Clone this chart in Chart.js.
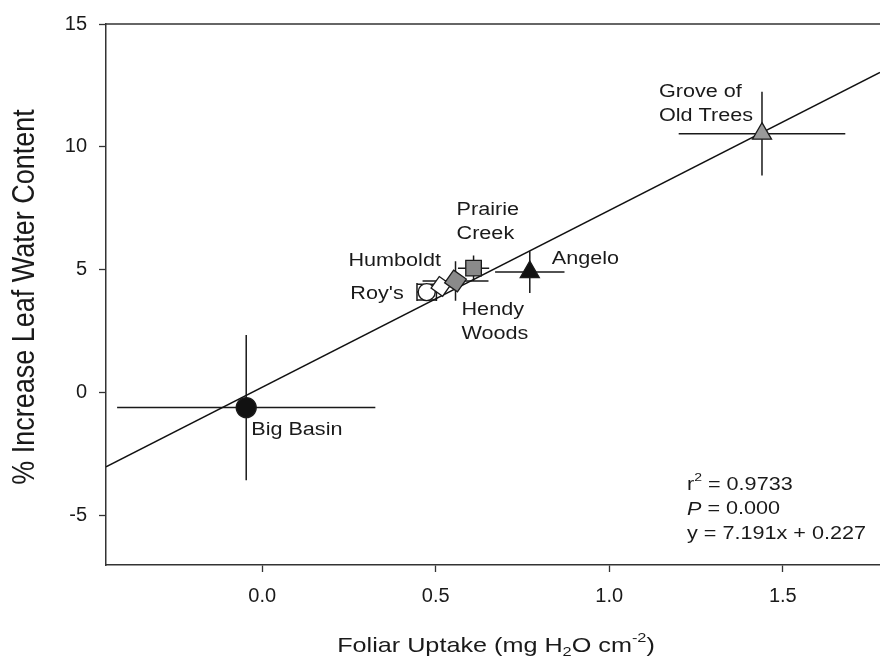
<!DOCTYPE html>
<html>
<head>
<meta charset="utf-8">
<script src="https://cdn.jsdelivr.net/npm/chart.js@4.4.0/dist/chart.umd.min.js"></script>
<style>
html, body { margin: 0; padding: 0; background: #fff; overflow: hidden; }
canvas { display: block; }
</style>
</head>
<body>
<canvas id="chart" width="880" height="664"></canvas>
<script>
// site means +/- error, foliar uptake vs leaf water gain
const sites = ['Big Basin', "Roy's", 'Humboldt', 'Hendy Woods', 'Prairie Creek', 'Angelo', 'Grove of Old Trees']
const uptake = [-0.046, 0.474, 0.515, 0.557, 0.609, 0.771, 1.44]
const uptakeErr = [0.372, 0.028, 0.05, 0.095, 0.045, 0.1, 0.24]
const waterGain = [-0.60, 4.10, 4.33, 4.55, 5.07, 4.91, 10.54]
const waterGainErr = [2.95, 0.32, 0.3, 0.8, 0.52, 0.85, 1.7]
const xTicks = [0, 0.5, 1.0, 1.5]
const yTicks = [-5, 0, 5, 10, 15]
const xRange = [-0.45, 1.78]
const yRange = [-7, 15]
const fitSlope = 7.191
const fitIntercept = 0.227
const statLines = ['0.9733', '0.000', 'y = 7.191x + 0.227']

const FONT = '"Liberation Sans", Arial, sans-serif'
const SX = 1.2   // the scanned figure is a bit wide, stretch text to match
const ink = '#1a1a1a'

const markers = {
    'Big Basin': { style: 'circle', r: 10, fill: '#111' },
    "Roy's": { style: 'circle', r: 8.5, fill: '#fff', cap: 9 },
    'Humboldt': { style: 'rect', r: 10, fill: '#fff', rot: 35 },
    'Hendy Woods': { style: 'rect', r: 11, fill: '#8a8a8a', rot: 35 },
    'Prairie Creek': { style: 'rect', r: 11, fill: '#8a8a8a' },
    'Angelo': { style: 'triangle', r: 11, fill: '#111' },
    'Grove of Old Trees': { style: 'triangle', r: 11, fill: '#9a9a9a' }
}

// label offsets from the marker, in pixels
const labelPos = {
    'Big Basin': { dx: 5, dy: 22, align: 'left', lines: ['Big Basin'] },
    "Roy's": { dx: -23, dy: 2, align: 'right', lines: ["Roy's"] },
    'Humboldt': { dx: 0, dy: -25, align: 'right', lines: ['Humboldt'] },
    'Hendy Woods': { dx: 6, dy: 29, align: 'left', lines: ['Hendy', 'Woods'] },
    'Prairie Creek': { dx: -17, dy: -58, align: 'left', lines: ['Prairie', 'Creek'] },
    'Angelo': { dx: 22, dy: -13, align: 'left', lines: ['Angelo'] },
    'Grove of Old Trees': { dx: -103, dy: -42, align: 'left', lines: ['Grove of', 'Old Trees'] }
}

function stretchText(ctx, text, x, y, align, font) {
    ctx.save()
    ctx.translate(x, y)
    ctx.scale(SX, 1)
    ctx.font = font
    ctx.textAlign = align
    ctx.textBaseline = 'middle'
    ctx.fillText(text, 0, 0)
    ctx.restore()
}

// draws runs of text with sub/superscripts, starting at x (already scaled ctx)
function drawRuns(ctx, runs, x, y, size) {
    runs.forEach(([t, kind]) => {
        let fs = size, off = 0, style = ''
        if (kind === 'sub') { fs = size * 0.65; off = size * 0.3 }
        if (kind === 'sup') { fs = size * 0.65; off = -size * 0.38 }
        if (kind === 'it') style = 'italic '
        ctx.font = style + fs + 'px ' + FONT
        ctx.fillText(t, x, y + off)
        x += ctx.measureText(t).width
    })
    return x
}

function runsWidth(ctx, runs, size) {
    let w = 0
    runs.forEach(([t, kind]) => {
        const fs = (kind === 'sub' || kind === 'sup') ? size * 0.65 : size
        ctx.font = (kind === 'it' ? 'italic ' : '') + fs + 'px ' + FONT
        w += ctx.measureText(t).width
    })
    return w
}

const errorBars = {
    id: 'errorBars',
    beforeDatasetsDraw(chart) {
        const { ctx, scales: { x, y } } = chart
        ctx.save()
        ctx.strokeStyle = ink
        ctx.lineWidth = 1.5
        sites.forEach((s, i) => {
            const px = x.getPixelForValue(uptake[i])
            const py = y.getPixelForValue(waterGain[i])
            const x0 = x.getPixelForValue(uptake[i] - uptakeErr[i])
            const x1 = x.getPixelForValue(uptake[i] + uptakeErr[i])
            const y0 = y.getPixelForValue(waterGain[i] - waterGainErr[i])
            const y1 = y.getPixelForValue(waterGain[i] + waterGainErr[i])
            ctx.beginPath()
            ctx.moveTo(x0, py); ctx.lineTo(x1, py)
            ctx.moveTo(px, y0); ctx.lineTo(px, y1)
            const cap = markers[s].cap
            if (cap) {
                ctx.moveTo(x0, py - cap); ctx.lineTo(x0, py + cap)
                ctx.moveTo(x1, py - cap); ctx.lineTo(x1, py + cap)
                ctx.moveTo(px - cap, y0); ctx.lineTo(px + cap, y0)
                ctx.moveTo(px - cap, y1); ctx.lineTo(px + cap, y1)
            }
            ctx.stroke()
        })
        // top frame line
        const a = chart.chartArea
        ctx.beginPath()
        ctx.strokeStyle = '#333'
        ctx.moveTo(a.left, a.top); ctx.lineTo(a.right, a.top)
        ctx.stroke()
        ctx.restore()
    }
}

const annotations = {
    id: 'annotations',
    afterDraw(chart) {
        const { ctx, scales: { x, y } } = chart
        ctx.save()
        ctx.fillStyle = ink
        const f = '18px ' + FONT
        sites.forEach((s, i) => {
            const p = labelPos[s]
            const px = x.getPixelForValue(uptake[i]) + p.dx
            const py = y.getPixelForValue(waterGain[i]) + p.dy
            p.lines.forEach((ln, k) => stretchText(ctx, ln, px, py + k * 24, p.align, f))
        })

        // stats block
        const sx = 687, sy = 485
        const rows = [
            [['r', ''], ['2', 'sup'], [' = ' + statLines[0], '']],
            [['P', 'it'], [' = ' + statLines[1], '']],
            [[statLines[2], '']]
        ]
        rows.forEach((runs, k) => {
            ctx.save()
            ctx.translate(sx, sy + k * 24.5)
            ctx.scale(SX, 1)
            ctx.textBaseline = 'middle'
            ctx.textAlign = 'left'
            drawRuns(ctx, runs, 0, 0, 18)
            ctx.restore()
        })

        // x axis title
        const xt = [['Foliar Uptake (mg H', ''], ['2', 'sub'], ['O cm', ''], ['-2', 'sup'], [')', '']]
        ctx.save()
        ctx.translate(496, 646)
        ctx.scale(SX, 1)
        ctx.textBaseline = 'middle'
        ctx.textAlign = 'left'
        drawRuns(ctx, xt, -runsWidth(ctx, xt, 21) / 2, 0, 21)
        ctx.restore()

        // y axis title
        ctx.save()
        ctx.translate(25, 297)
        ctx.rotate(-Math.PI / 2)
        ctx.scale(1, 1.15)
        ctx.font = '27px ' + FONT
        ctx.textAlign = 'center'
        ctx.textBaseline = 'middle'
        ctx.fillText('% Increase Leaf Water Content', 0, 0)
        ctx.restore()
        ctx.restore()
    }
}

const siteSets = sites.map((s, i) => {
    const m = markers[s]
    return {
        label: s,
        data: [{ x: uptake[i], y: waterGain[i] }],
        pointStyle: m.style,
        radius: m.r,
        rotation: m.rot || 0,
        backgroundColor: m.fill,
        borderColor: ink,
        borderWidth: 1.3,
        order: sites.length - i
    }
})

const fitLine = {
    label: 'fit',
    type: 'line',
    data: xRange.map(v => ({ x: v, y: fitSlope * v + fitIntercept })),
    borderColor: '#111',
    borderWidth: 1.5,
    pointRadius: 0,
    showLine: true,
    order: 99
}

const tickFont = { family: FONT, size: 20 }
const axisGrid = { drawOnChartArea: false, drawTicks: true, tickLength: 7, tickColor: '#333', tickWidth: 1.3 }

new Chart(document.getElementById('chart'), {
    type: 'scatter',
    data: { datasets: [...siteSets, fitLine] },
    options: {
        responsive: false,
        animation: false,
        events: [],
        layout: { autoPadding: false, padding: { top: 19, right: 0, left: 0, bottom: 0 } },
        plugins: { legend: { display: false }, tooltip: { enabled: false } },
        scales: {
            x: {
                type: 'linear',
                min: xRange[0],
                max: xRange[1],
                afterBuildTicks: s => { s.ticks = xTicks.map(v => ({ value: v })) },
                afterFit: s => { s.height = 99; s.paddingLeft = 0; s.paddingRight = 0 },
                ticks: { font: tickFont, color: ink, padding: 12, maxRotation: 0, callback: v => v.toFixed(1) },
                grid: axisGrid,
                border: { display: true, color: '#333', width: 1.5 }
            },
            y: {
                type: 'linear',
                min: yRange[0],
                max: yRange[1],
                afterBuildTicks: s => { s.ticks = yTicks.map(v => ({ value: v })) },
                afterFit: s => { s.width = 106 },
                ticks: { font: tickFont, color: ink, padding: 12, callback: v => String(v) },
                grid: axisGrid,
                border: { display: true, color: '#333', width: 1.5 }
            }
        }
    },
    plugins: [errorBars, annotations]
})
</script>
</body>
</html>
